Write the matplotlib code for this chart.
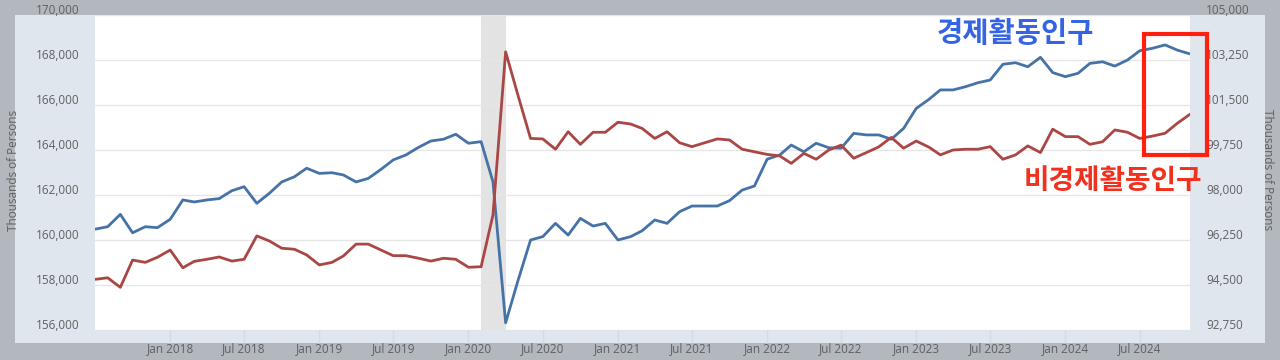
import numpy as np
import pandas as pd
import matplotlib
matplotlib.use("Agg")
import matplotlib.pyplot as plt
import matplotlib.dates as mdates
import matplotlib.transforms as mtransforms
from matplotlib.patches import Rectangle

# monthly data, Jul 2017 - Nov 2024 (thousands of persons)
start_month = "2017-07-01"

labor_force = [
    160480, 160590, 161140, 160320, 160590, 160550,  # 2017 H2
    160920, 161780, 161690, 161780, 161840, 162190,  # 2018
    162370, 161630, 162080, 162580, 162810, 163190,
    162960, 162990, 162890, 162580, 162740, 163140,  # 2019
    163560, 163780, 164120, 164400, 164480, 164700,
    164300, 164370, 162590, 156320, 158180, 160000,  # 2020
    160150, 160740, 160220, 160960, 160620, 160740,
    160000, 160150, 160410, 160890, 160740, 161260,  # 2021
    161510, 161510, 161510, 161750, 162220, 162400,
    163590, 163780, 164220, 163920, 164300, 164100,  # 2022
    164080, 164740, 164670, 164670, 164480, 164960,
    165850, 166250, 166670, 166670, 166810, 166990,  # 2023
    167110, 167810, 167880, 167700, 168120, 167440,
    167260, 167410, 167850, 167920, 167730, 168000,  # 2024
    168410, 168520, 168670, 168440, 168270,
]

not_in_labor_force = [
    94720, 94780, 94410, 95470, 95380, 95580,
    95860, 95170, 95420, 95500, 95590, 95430,
    95500, 96410, 96210, 95930, 95890, 95670,
    95280, 95380, 95630, 96090, 96090, 95860,
    95640, 95640, 95540, 95430, 95540, 95500,
    95190, 95210, 97220, 103570, 101890, 100200,
    100180, 99780, 100460, 99970, 100440, 100440,
    100830, 100760, 100590, 100200, 100460, 100030,
    99880, 100030, 100180, 100140, 99780, 99680,
    99580, 99520, 99230, 99620, 99390, 99750,
    99940, 99430, 99650, 99870, 100240, 99820,
    100100, 99860, 99560, 99750, 99780, 99780,
    99880, 99390, 99560, 99910, 99650, 100560,
    100270, 100270, 99970, 100070, 100530, 100440,
    100200, 100290, 100400, 100790, 101140,
]

recession = ("2020-02-01", "2020-04-01")

left_ticks = [156000, 158000, 160000, 162000, 164000, 166000, 168000, 170000]
right_ticks = [92750, 94500, 96250, 98000, 99750, 101500, 103250, 105000]
x_ticks = pd.date_range("2018-01-01", "2024-07-01", freq="6MS")

label_lf = "경제활동인구"
label_nilf = "비경제활동인구"
axis_title = "Thousands of Persons"

dates = pd.date_range(start_month, periods=len(labor_force), freq="MS")

fig = plt.figure(figsize=(12.8, 3.6), dpi=100)
fig.patch.set_facecolor("#b3b7be")

# light panel behind the chart
fig.patches.append(Rectangle((15/1280, 17/360), 1250/1280, 328/360,
                             transform=fig.transFigure, facecolor="#dfe6ee",
                             edgecolor="none", zorder=-5))

ax = fig.add_axes([95/1280, 30/360, 1095/1280, 315/360])
ax.set_facecolor("white")
ax2 = ax.twinx()

ax.axvspan(pd.Timestamp(recession[0]), pd.Timestamp(recession[1]),
           color="#e3e3e3", lw=0, zorder=0)

ax.plot(dates, labor_force, color="#4572a7", lw=2.0, zorder=3)
ax2.plot(dates, not_in_labor_force, color="#aa4643", lw=2.0, zorder=3)

ax.set_xlim(dates[0], dates[-1])
ax.set_ylim(left_ticks[0], left_ticks[-1])
ax2.set_ylim(right_ticks[0], right_ticks[-1])

ax.set_yticks(left_ticks)
ax.set_yticklabels([f"{v:,}" for v in left_ticks])
ax2.set_yticks(right_ticks)
ax2.set_yticklabels([f"{v:,}" for v in right_ticks])

ax.grid(axis="y", color="#e6e6e6", lw=1)
ax.set_axisbelow(True)

ax.set_xticks(x_ticks)
ax.xaxis.set_major_formatter(mdates.DateFormatter("%b %Y"))

for a in (ax, ax2):
    for s in a.spines.values():
        s.set_visible(False)

fs = 8.5
tick_font = dict(family="Open Sans", size=fs, color="#606060")
ax.tick_params(axis="y", length=0, pad=11, labelcolor="#606060", labelsize=fs)
ax2.tick_params(axis="y", length=0, pad=11.5, labelcolor="#606060", labelsize=fs)
ax.tick_params(axis="x", length=9, width=1, color="#d3dae3", pad=0,
               labelcolor="#606060", labelsize=fs)

shift = mtransforms.ScaledTranslation(0, 6/100, fig.dpi_scale_trans)
for lbl in ax.get_yticklabels() + ax2.get_yticklabels():
    lbl.set_fontfamily("Open Sans")
    lbl.set_transform(lbl.get_transform() + shift)
for lbl in ax.get_xticklabels():
    lbl.set_fontfamily("Open Sans")

fig.text(14/1280, 1 - 170/360, axis_title, rotation=90, ha="center", va="center",
         **tick_font)
fig.text(1268/1280, 1 - 170/360, axis_title, rotation=-90, ha="center", va="center",
         **tick_font)

# annotations
fig.text(1015/1280, 1 - 34/360, label_lf, ha="center", va="center",
         family=["Noto Sans CJK KR", "DejaVu Sans"], weight="bold",
         size=20.5, color="#3464e4")
fig.text(1113/1280, 1 - 181/360, label_nilf, ha="center", va="center",
         family=["Noto Sans CJK KR", "DejaVu Sans"], weight="bold",
         size=20, color="#f2301e")

box = Rectangle((1144/1280, 1 - 155/360), 63/1280, 121/360,
                transform=fig.transFigure, fill=False, edgecolor="#ff2010",
                lw=3, zorder=10)
fig.add_artist(box)

fig.savefig("out.png", dpi=100, facecolor=fig.get_facecolor())
